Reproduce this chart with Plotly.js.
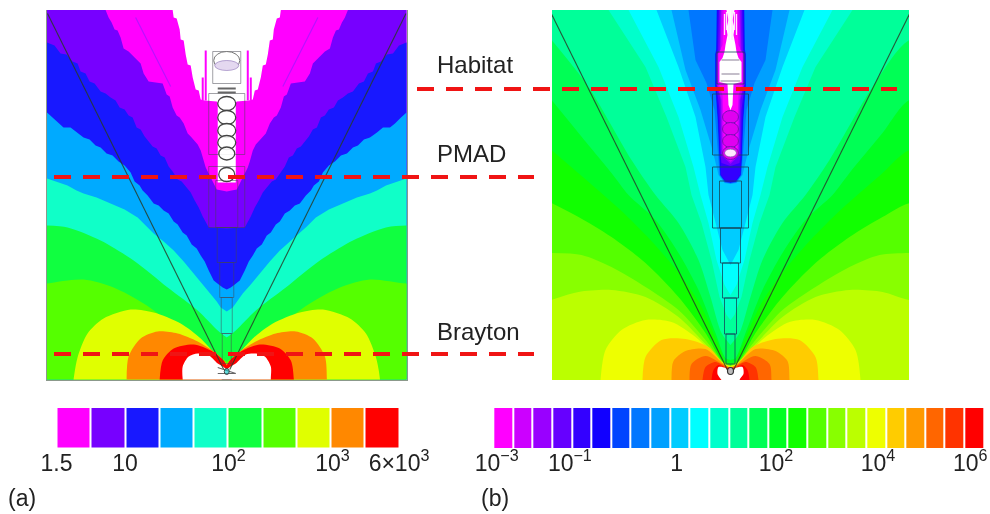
<!DOCTYPE html>
<html><head><meta charset="utf-8">
<script src="https://cdn.plot.ly/plotly-3.0.1.min.js"></script>
<style>html,body{margin:0;padding:0;background:#fff}#plot{width:990px;height:514px;filter:blur(0.5px)}</style>
</head><body><div id="plot"></div>
<script>
// ---------- Panel (a): band boundaries, as [offset from axis, height above base]
const aColors = ['#ff00ff','#7700ff','#1818ff','#00aaff','#10ffc8','#10ff40','#55ff00','#e0ff00','#ff8800','#ff0000','#ffffff'];
const aTickVals = [-0.5,1.5,4.52,7.56,9.5];
const aTickText = ['1.5','10','10<sup>2</sup>','10<sup>3</sup>','6×10<sup>3</sup>'];
const aBand0 = [[54,369.5],[53,362],[50,361],[47,350],[46,340],[43,339],[41,325],[39,315],[36,314],[34,302],[31,290],[28,289],[26,280],[22,279],[10,278],[9,277],[9,197],[0,197]];
const aBand1 = [[121,369.5],[118,362],[115,357],[112,350],[109,349],[106,342],[103,331],[98,328],[92,322],[86,316],[83,306],[78,298],[64,296],[60,285],[57,283],[54,272],[50,264],[47,262],[43,256],[39,246],[36,243],[32,238],[29,235],[26,229],[23,218],[21,212],[15,200],[10,190],[0,188]];
const aBand2 = [[179.5,337],[172,334],[166,326],[160,325],[154,318],[149,316],[146,308],[141,306],[137,298],[132,296],[126,288],[121,286],[116,282],[111,279],[107,272],[102,270],[98,264],[94,262],[90,252],[86,250],[82,243],[78,238],[74,233],[70,231],[66,224],[62,222],[58,213],[54,208],[49,200],[45,198],[40,192],[36,187],[32,179],[28,172],[24,163],[18,152],[0,151]];
const aBand3 = [[179.5,267],[174,262],[168,256],[163,252],[156,252],[150,247],[143,242],[137,240],[131,234],[126,232],[120,226],[114,224],[108,218],[102,214],[96,207],[92,198],[87,194],[84,189],[79,184],[73,176],[68,174],[63,169],[58,166],[53,158],[49,155],[44,147],[40,144],[35,135],[30,131],[26,124],[22,118],[18,109],[13,99],[8,95],[4,92],[0,90]];
const aBand4 = [[179.5,201],[170,198],[159,194],[150,189],[143,186],[130,182],[116,176],[102,170],[89,162],[80,153],[73,146],[63,138],[53,129],[43,118],[33,106],[24,95],[16,86],[10,78],[6,72],[0,68]];
const aBand5 = [[179.5,154],[159,152],[126,139],[93,119],[59,92],[29,69],[9,49],[0,42]];
const aBand6 = [[179.5,96],[143,100],[113,92],[83,76],[46,49],[19,32],[6,22],[0,18]];
const aBand7 = [[153,0],[149,22],[139,46],[123,61],[96,70],[73,67],[46,56],[26,41],[9,23],[0,16]];
const aBand8 = [[100,0],[98,23],[86,41],[69,48],[49,46],[29,38],[9,25],[0,15]];
const aBand9 = [[67,0],[64,19],[53,31],[33,35],[16,29],[4,20],[0,14]];
const aBand10 = [[44,0],[44,13],[38,23],[29,26],[19,25],[9,16],[4,13],[0,10]];
const aBands = [aBand0,aBand1,aBand2,aBand3,aBand4,aBand5,aBand6,aBand7,aBand8,aBand9,aBand10];
const aRounded = [0,0,0,0,0,1,1,1,1,1,1];
const aVioletStreak = [[91,362],[74,328],[56,293]];

// ---------- Panel (b)
const bColors = ['#ff00ff','#cc00ff','#9900ff','#6600ff','#3300ff','#1100ff','#0044ff','#0077ff','#00a0ff','#00ccff','#00ffff','#00ffcc','#00ff99','#00ff55','#00ff22','#11ff00','#55ff00','#88ff00','#bbff00','#eeff00','#ffcc00','#ff9900','#ff6600','#ff3300','#ff0000','#ffffff'];
const bTickVals = [-0.33,3.4,8.84,13.9,19.1,23.8];
const bTickText = ['10<sup>−3</sup>','10<sup>−1</sup>','1','10<sup>2</sup>','10<sup>4</sup>','10<sup>6</sup>'];
const bBand0 = [[4,370],[2,360],[4,352],[3,345],[5,335],[6,328],[8,322],[11,318],[11,298],[3,296],[2,275],[0,270]];
const bBand1 = [[7,370],[8,335],[12,327],[12,296],[8,285],[7,260],[7,225],[0,222]];
const bBand2 = [[9,370],[10,330],[13,326],[13,295],[9,280],[8,225],[0,218]];
const bBand3 = [[10,370],[11,330],[13.5,326],[13.5,295],[10,280],[9,225],[0,216]];
const bBand4 = [[11.5,370],[12.5,330],[14,326],[14,295],[11,270],[10,225],[9,217],[0,214]];
const bBand5 = [[13,370],[13.5,330],[14.5,326],[14.5,295],[12,260],[10.5,220],[9.5,205],[5,199],[0,198]];
const bBand6 = [[13.5,370],[14,330],[15,326],[15,295],[12.5,260],[11,220],[10,205],[5,198.5],[0,197.5]];
const bBand7 = [[14,370],[14.5,330],[15.5,326],[15.5,295],[13,260],[11.5,220],[10.5,205],[5.5,198],[0,197]];
const bBand8 = [[42,370],[35,320],[24,297],[16,270],[12,220],[11,205],[6,197.5],[0,196.5]];
const bBand9 = [[59,370],[45,310],[30,270],[18,230],[12,205],[6,197],[0,196]];
const bBand10 = [[74,370],[52,313],[35,263],[25,213],[22,185],[15,157],[8,130],[0,115]];
const bBand11 = [[102,370],[72,313],[52,263],[37,213],[30,185],[22,157],[14,120],[6,95],[0,85]];
const bBand12 = [[122,370],[85,313],[64,263],[45,213],[39,185],[29,157],[19,120],[11,83],[4,65],[0,60]];
const bBand13 = [[179,340],[142,293],[99,220],[75,185],[52,157],[32,120],[20,83],[9,47],[0,35]];
const bBand14 = [[179,280],[152,247],[119,207],[102,185],[75,160],[52,127],[32,90],[15,47],[5,22],[0,20]];
const bBand15 = [[179,230],[150,205],[110,170],[80,140],[50,105],[30,75],[12,35],[5,18],[0,16]];
const bBand16 = [[179,177],[152,163],[119,143],[85,117],[52,83],[25,47],[9,20],[0,15]];
const bBand17 = [[179,127],[149,125],[119,113],[85,93],[52,70],[25,40],[7,17],[0,14]];
const bBand18 = [[179,80],[152,88],[119,90],[85,83],[52,63],[25,36],[8,18],[0,14]];
const bBand19 = [[130,0],[125,30],[109,50],[85,60],[59,58],[35,43],[9,18],[0,13]];
const bBand20 = [[88,0],[85,23],[69,40],[45,41],[22,33],[7,16],[0,12]];
const bBand21 = [[59,0],[57,19],[45,29],[25,31],[7,16],[0,12]];
const bBand22 = [[41,0],[39,16],[25,24],[5,14],[0,12]];
const bBand23 = [[28,0],[25,13],[15,18],[5,13],[0,11]];
const bBand24 = [[19,0],[17,10],[12,15],[5,12],[0,11]];
const bBand25 = [[9,0],[13,6],[12,13],[5,12],[2,8],[0,8]];
const bBands = [bBand0,bBand1,bBand2,bBand3,bBand4,bBand5,bBand6,bBand7,bBand8,bBand9,bBand10,bBand11,bBand12,bBand13,bBand14,bBand15,bBand16,bBand17,bBand18,bBand19,bBand20,bBand21,bBand22,bBand23,bBand24,bBand25];
const bRounded = [0,0,0,0,0,0,0,0,0,0,0,0,0,1,1,1,1,1,1,1,1,1,1,1,1,1];

// ---------- Spacecraft outline: [half width, bottom height, top height]
const aHull = [[14,296,328],[18,225,286],[18,152,213],[11,152,199],[9.5,117,152],[7,82,117],[5.5,46,82],[4.5,16,46]];
const bHull = [[13.5,296,328],[18,225,286],[18,152,213],[11,152,199],[10,117,152],[8,82,117],[6,46,82],[4.5,16,46]];
const aRings = [[276,9,7],[262,9,7],[249,9,7],[237,9,7],[226,8,6.5],[205,8,7]];
const bRings = [[263,8,6.5],[251,8,6.5],[239,8,6.5],[227,8,6.5]];
const coneEdge = [[179,366],[3,10]];
const bStreaks = [[1.5,370,340],[4,368,350],[6,366,345]];
const bModuleBands = [[9,306],[10,299],[9,320]];

// ---------- Page furniture
const guideHabitat = [417,897,89];
const guidePMAD = [54,534,177];
const guideBrayton = [54,534,354];

const W = 990, H = 514;
const dx = (a,b)=>[a/W,b/W];
const dy = (t,b)=>[(H-b)/H,(H-t)/H];

function band(curve,color,xa,ya,R,top,round){
  const rev = curve.slice().reverse();
  const h0 = curve[0][1], b0 = curve[0][0];
  let cx, cy;
  const out = R+40;
  if (h0 === 0) { cx=[b0,-b0]; cy=[-40,-40]; }
  else {
    const ht = h0>=top ? h0+40 : h0;
    cx=[out,out,-out,-out]; cy=[ht,-40,-40,ht];
  }
  const xs = curve.map(p=>-p[0]).concat(rev.map(p=>p[0]),cx);
  const ys = curve.map(p=>p[1]).concat(rev.map(p=>p[1]),cy);
  return {type:'scatter',mode:'lines',xaxis:xa,yaxis:ya,hoverinfo:'skip',showlegend:false,
    x:xs,y:ys,fill:'toself',fillcolor:color,
    line:{width:0,color:color,shape:round?'spline':'linear',smoothing:0.8}};
}
function line(xs,ys,xa,ya,color,w){
  return {type:'scatter',mode:'lines',xaxis:xa,yaxis:ya,hoverinfo:'skip',showlegend:false,x:xs,y:ys,line:{color:color,width:w}};
}
function mirrored(pts,xa,ya,color,w){
  const xs=pts.map(p=>-p[0]).concat([null],pts.map(p=>p[0]));
  const ys=pts.map(p=>p[1]).concat([null],pts.map(p=>p[1]));
  return line(xs,ys,xa,ya,color,w);
}
function hull(list,xa,ya,color){
  const xs=[],ys=[];
  list.forEach(r=>{xs.push(-r[0],r[0],r[0],-r[0],-r[0],null);ys.push(r[1],r[1],r[2],r[2],r[1],null);});
  return line(xs,ys,xa,ya,color,1);
}
function strip(colors,xa,ya){
  const idx = colors.map((c,i)=>i);
  const n = colors.length-1;
  const scale=[];
  colors.forEach((c,i)=>{scale.push([i/(n+1),c]);scale.push([(i+1)/(n+1),c]);});
  return {type:'heatmap',xaxis:xa,yaxis:ya,x:idx,y:[0],z:[idx],zmin:-0.5,zmax:n+0.5,colorscale:scale,showscale:false,xgap:2,hoverinfo:'skip'};
}

const traces=[];
aBands.forEach((c,i)=>traces.push(band(c,aColors[i],'x','y',179.5,369.5,aRounded[i])));
bBands.forEach((c,i)=>traces.push(band(c,bColors[i],'x2','y2',178.5,370,bRounded[i])));
traces.push(mirrored(aVioletStreak,'x','y','rgba(170,20,255,0.8)',1.2));
traces.push(mirrored([[21,329],[21,279]],'x','y','#ff00ff',2));
traces.push(mirrored([[24,302],[24,279]],'x','y','#ff00ff',2));
bStreaks.forEach(s=>traces.push(mirrored([[s[0],s[1]],[s[0],s[2]]],'x2','y2','#ffe6ff',1.3)));
bModuleBands.forEach(s=>traces.push(line([-s[0],s[0]],[s[1],s[1]],'x2','y2','#b0a8b8',1.5)));
traces.push(hull(aHull,'x','y','rgba(70,70,80,0.5)'));
traces.push(hull(bHull,'x2','y2','rgba(20,70,90,0.8)'));
traces.push(mirrored(coneEdge,'x','y','rgba(40,60,40,0.85)',1.1));
traces.push(mirrored(coneEdge,'x2','y2','rgba(40,60,40,0.85)',1.1));
traces.push(line([-9,9,null,-9,9],[291,291,null,287,287],'x','y','#666',2));
traces.push(line([-9,9,-9,null,-5,5],[12,6,6,null,0,0],'x','y','#666',1.2));
traces.push(strip(aColors.slice(0,10),'x3','y3'));
traces.push(strip(bColors.slice(0,25),'x4','y4'));

function ell(xr,yr,cy,rx,ry,stroke,fill,w){
  return {type:'circle',xref:xr,yref:yr,x0:-rx,x1:rx,y0:cy-ry,y1:cy+ry,line:{color:stroke,width:w},fillcolor:fill,layer:'above'};
}
function guide(g){
  return {type:'line',xref:'paper',yref:'paper',x0:g[0]/W,x1:g[1]/W,y0:(H-g[2])/H,y1:(H-g[2])/H,line:{color:'#f01414',width:4,dash:'17px,12px'},layer:'above'};
}
const shapes=[];
aRings.forEach(r=>shapes.push(ell('x','y',r[0],r[1],r[2],'#444','rgba(255,255,255,0.9)',1.3)));
shapes.push(ell('x','y',319,13,9,'#777','#fff',1));
shapes.push(ell('x','y',314,12,5,'rgba(120,90,170,0.5)','#e4d8f0',1));
shapes.push(ell('x','y',8,2.5,3,'#444','rgba(0,200,200,0.6)',1));
bRings.forEach(r=>shapes.push(ell('x2','y2',r[0],r[1],r[2],'#7a10b8','#e000f0',1)));
shapes.push(ell('x2','y2',227,6,4,'#a050c0','#ffe8ff',1));
shapes.push(ell('x2','y2',9,3,3.5,'#333','#bbb',1.2));
[guideHabitat,guidePMAD,guideBrayton].forEach(g=>shapes.push(guide(g)));

const LF='"Liberation Sans",Arial,sans-serif';
function note(t,x,y,size){
  return {text:t,xref:'paper',yref:'paper',x:x/W,y:(H-y)/H,xanchor:'left',yanchor:'middle',showarrow:false,font:{family:LF,size:size,color:'#222'}};
}
const hidden={visible:false,fixedrange:true};
const frame={visible:true,showline:true,linecolor:'rgba(90,110,90,0.7)',linewidth:1,showgrid:false,zeroline:false,showticklabels:false,ticks:'',fixedrange:true};
function stripX(dom,anchor,rng,vals,text){
  return {domain:dom,anchor:anchor,range:rng,tickmode:'array',tickvals:vals,ticktext:text,showgrid:false,zeroline:false,showline:false,ticks:'',ticklabelstandoff:-1,ticklabeloverflow:'allow',tickfont:{family:LF,size:23,color:'#222'},tickangle:0,fixedrange:true};
}
const layout={
  width:W,height:H,margin:{l:0,r:0,t:0,b:0},paper_bgcolor:'#fff',plot_bgcolor:'#fff',showlegend:false,
  xaxis:Object.assign({},frame,{domain:dx(47,406.5),anchor:'y',range:[-179.5,179.5]}),
  yaxis:Object.assign({},frame,{domain:dy(10,379.5),anchor:'x',range:[0,369.5],mirror:true}),
  xaxis2:Object.assign({},hidden,{domain:dx(552,909),anchor:'y2',range:[-178.5,178.5]}),
  yaxis2:Object.assign({},hidden,{domain:dy(10,380),anchor:'x2',range:[0,370]}),
  xaxis3:stripX(dx(56.5,399),'y3',[-0.5,9.5],aTickVals,aTickText),
  yaxis3:Object.assign({},hidden,{domain:dy(408,447.5),anchor:'x3',range:[-0.5,0.5]}),
  xaxis4:stripX(dx(493.3,984),'y4',[-0.5,24.5],bTickVals,bTickText),
  yaxis4:Object.assign({},hidden,{domain:dy(408,448),anchor:'x4',range:[-0.5,0.5]}),
  shapes:shapes,
  annotations:[note('Habitat',435,64.5,24),note('PMAD',435,153.5,24),note('Brayton',435,331.5,24),note('(a)',6,498,23),note('(b)',479,498,23)]
};
Plotly.newPlot('plot',traces,layout,{staticPlot:true,displayModeBar:false});
</script></body></html>
